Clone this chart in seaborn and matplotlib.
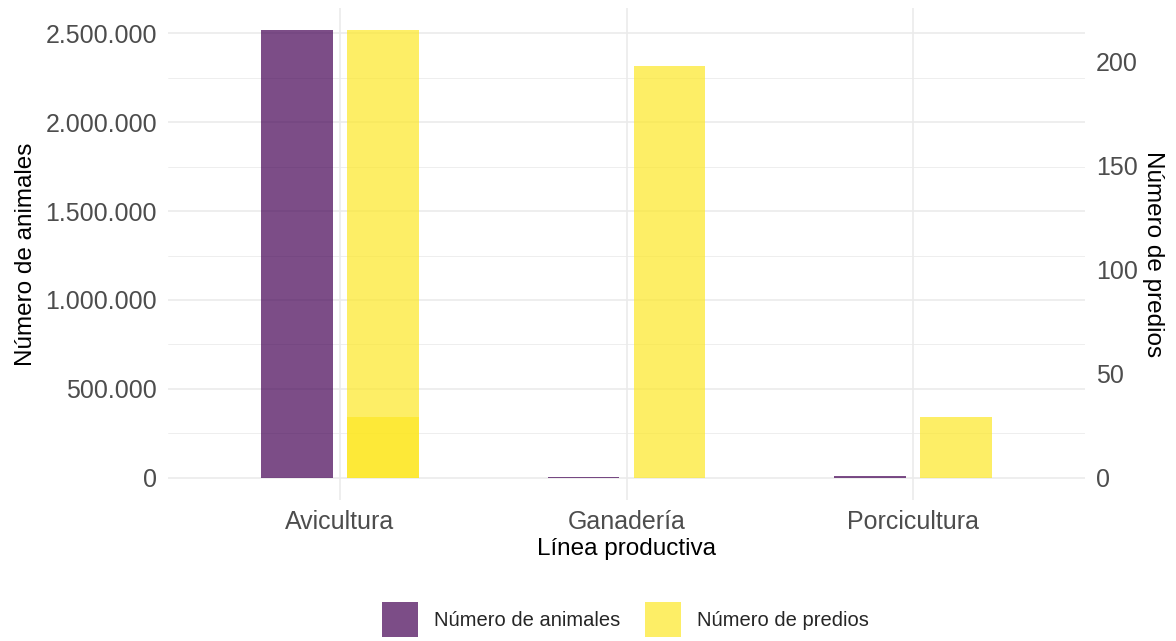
import pandas as pd
import numpy as np
import matplotlib
matplotlib.use("Agg")
import matplotlib.pyplot as plt
import matplotlib.patches as mpatches
from matplotlib.ticker import FuncFormatter
import seaborn as sns

# data
lineas = ["Avicultura", "Ganadería", "Porcicultura"]
animales = [2517000, 6000, 8000]
predios = [215, 198, 29]
# a second (overlapping) predios record drawn on top for Avicultura
predios_extra_linea = ["Avicultura"]
predios_extra = [29]

series = ["Número de animales", "Número de predios"]
colores = ["#440154", "#FDE725"]

# predios are shown on the animals scale (secondary axis)
k = max(animales) / max(predios)

df = pd.DataFrame({
    "linea": lineas * 2,
    "valor": animales + [p * k for p in predios],
    "serie": [series[0]] * 3 + [series[1]] * 3,
})
# zero-height animals row keeps the dodge slots for the overlap layer
df_extra = pd.DataFrame({
    "linea": predios_extra_linea * 2,
    "valor": [0] * len(predios_extra) + [p * k for p in predios_extra],
    "serie": [series[0]] * len(predios_extra) + [series[1]] * len(predios_extra),
})

sns.set_theme(style="whitegrid")
plt.rcParams["font.family"] = ["Liberation Sans", "DejaVu Sans"]

fig = plt.figure(figsize=(11.76, 6.41), dpi=100)
ax = fig.add_axes([168 / 1176, 141 / 641, 917 / 1176, 492 / 641])

pal = dict(zip(series, colores))
for d in (df, df_extra):
    sns.barplot(data=d, x="linea", y="valor", hue="serie", order=lineas,
                hue_order=series, palette=pal, width=0.6, gap=1 / 6,
                saturation=1, alpha=0.7, errorbar=None, legend=False,
                ax=ax, linewidth=0)

ymax = max(animales)
ax.set_xlim(-0.6, 2.6)
ax.set_ylim(-0.05 * ymax, 1.05 * ymax)

ax.set_yticks(np.arange(0, 2500001, 500000))
ax.set_yticks(np.arange(250000, 2500001, 500000), minor=True)
ax.yaxis.set_major_formatter(FuncFormatter(lambda v, p: f"{int(v):,}".replace(",", ".")))

ax.set_facecolor("white")
for s in ax.spines.values():
    s.set_visible(False)
ax.grid(True, which="major", color="#ebebeb", linewidth=1.2)
ax.grid(True, which="minor", axis="y", color="#ebebeb", linewidth=0.6)
ax.set_axisbelow(True)
ax.tick_params(axis="both", which="both", length=0, labelsize=18, labelcolor="#4d4d4d")
ax.tick_params(axis="y", pad=8)
ax.tick_params(axis="x", pad=7)

ax.set_xlabel("Línea productiva", fontsize=17.5, color="black", labelpad=3)
ax.set_ylabel("Número de animales", fontsize=17.5, color="black", labelpad=6)

sec = ax.secondary_yaxis("right", functions=(lambda y: y / k, lambda p: p * k))
sec.set_yticks([0, 50, 100, 150, 200])
for s in sec.spines.values():
    s.set_visible(False)
sec.tick_params(length=0, labelsize=18, labelcolor="#4d4d4d", pad=8)
sec.set_ylabel("Número de predios", fontsize=17.5, color="black", rotation=270,
               labelpad=19)

handles = [mpatches.Patch(facecolor=c, alpha=0.7, edgecolor="none") for c in colores]
fig.legend(handles, series, loc="lower center", bbox_to_anchor=(0.532, -0.022),
           ncol=2, frameon=False, fontsize=14.5, handlelength=1.8, handleheight=2.3,
           handletextpad=0.8, columnspacing=1.2)

fig.savefig("out.png", dpi=100, facecolor="white")
